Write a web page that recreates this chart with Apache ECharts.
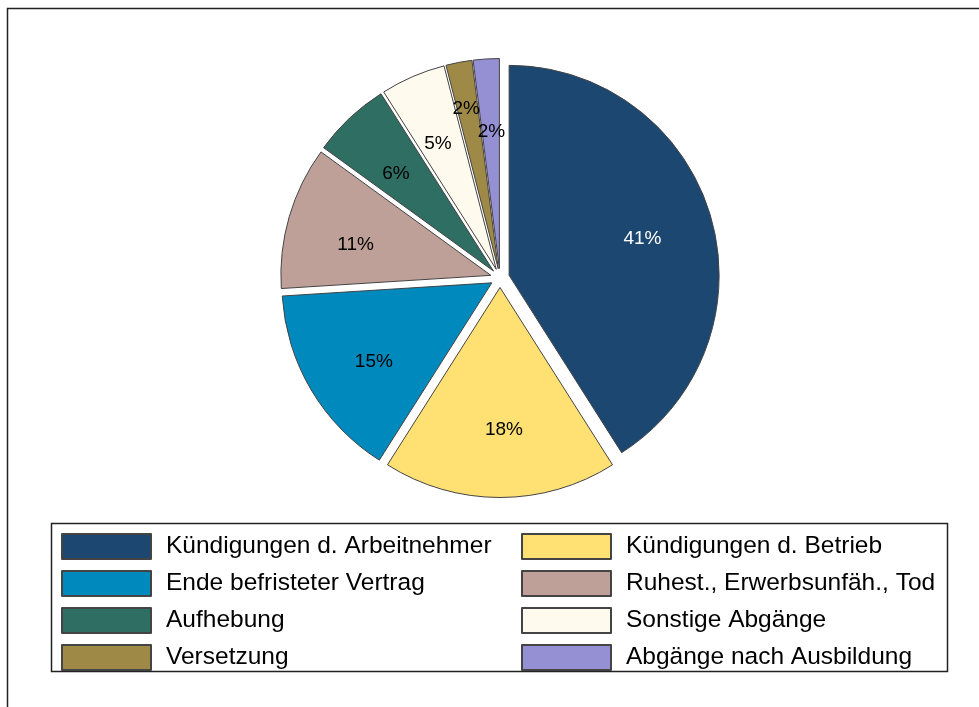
<!DOCTYPE html>
<html>
<head>
<meta charset="utf-8">
<script src="https://cdn.jsdelivr.net/npm/echarts@6/dist/echarts.min.js"></script>
<style>
  html, body { margin: 0; padding: 0; background: #fff; }
  #main { width: 979px; height: 707px; }
</style>
</head>
<body>
<div id="main"></div>
<script>
// Abgänge nach Grund, Anteil in %
var categories = [
    'Kündigungen d. Arbeitnehmer',
    'Kündigungen d. Betrieb',
    'Ende befristeter Vertrag',
    'Ruhest., Erwerbsunfäh., Tod',
    'Aufhebung',
    'Sonstige Abgänge',
    'Versetzung',
    'Abgänge nach Ausbildung'
];
var shares = [41, 18, 15, 11, 6, 5, 2, 2];
var colors = ['#1b4770', '#ffe173', '#0089bc', '#bea098', '#2f6e62', '#fffaee', '#9e8946', '#958fd3'];
var labelColors = ['#ffffff', '#000', '#000', '#000', '#000', '#000', '#000', '#000'];

// legend columns, as in the picture
var legendLeft = ['Kündigungen d. Arbeitnehmer', 'Ende befristeter Vertrag', 'Aufhebung', 'Versetzung'];
var legendRight = ['Kündigungen d. Betrieb', 'Ruhest., Erwerbsunfäh., Tod', 'Sonstige Abgänge', 'Abgänge nach Ausbildung'];

var FONT = '"Liberation Sans", Arial, sans-serif';

function sliceData(withLabels) {
    return categories.map(function (name, i) {
        var item = {
            name: name,
            value: shares[i],
            selected: true
        };
        if (withLabels) {
            item.itemStyle = { color: 'rgba(0,0,0,0)', borderWidth: 0 };
            item.label = { color: labelColors[i] };
        } else {
            item.itemStyle = { color: colors[i] };
        }
        return item;
    });
}

function legendBlock(left, names) {
    return {
        orient: 'vertical',
        left: left,
        top: 533,
        padding: 0,
        itemWidth: 89,
        itemHeight: 25,
        itemGap: 10,
        icon: 'rect',
        selectedMode: false,
        data: names,
        textStyle: {
            fontFamily: FONT,
            fontSize: 24.5,
            lineHeight: 25,
            color: '#000',
            padding: [0, 0, 0, 10]
        }
    };
}

// kleine Korrekturen, damit die Beschriftung wie bei Excel sitzt
var labelNudge = [[-5, 4], [4, -2], [6, 6], [3, 10], [1, 8], [-1, 7], [-5, -18], [1, 7]];

var myChart = echarts.init(document.getElementById('main'));
myChart.setOption({
    animation: false,
    backgroundColor: '#fff',
    graphic: [{
        type: 'rect',
        shape: { x: 7.5, y: 8.5, width: 1000, height: 1000 },
        style: { fill: 'none', stroke: '#222', lineWidth: 1.5 },
        silent: true
    }, {
        type: 'rect',
        shape: { x: 51.5, y: 523.5, width: 896, height: 148 },
        style: { fill: 'none', stroke: '#222', lineWidth: 1.5 },
        silent: true
    }],
    legend: [legendBlock(61, legendLeft), legendBlock(521, legendRight)],
    series: [{
        type: 'pie',
        center: [500, 278],
        radius: 210,
        startAngle: 90,
        clockwise: true,
        selectedMode: 'multiple',
        selectedOffset: 9.5,
        avoidLabelOverlap: false,
        label: { show: false },
        labelLine: { show: false },
        itemStyle: { borderColor: '#444', borderWidth: 1 },
        emphasis: { disabled: true },
        select: { itemStyle: { borderColor: '#444', borderWidth: 1 } },
        data: sliceData(false)
    }, {
        // unsichtbarer Ring nur fuer die Beschriftung (Excel setzt sie weiter aussen)
        type: 'pie',
        center: [500, 278],
        radius: 282,
        startAngle: 90,
        clockwise: true,
        silent: true,
        selectedMode: 'multiple',
        selectedOffset: 9.5,
        avoidLabelOverlap: false,
        z: 3,
        labelLine: { show: false },
        label: {
            show: true,
            position: 'inside',
            formatter: '{c}%',
            fontFamily: FONT,
            fontSize: 19
        },
        labelLayout: function (params) {
            var n = labelNudge[params.dataIndex] || [0, 0];
            return { dx: n[0], dy: n[1], hideOverlap: false };
        },
        emphasis: { disabled: true },
        select: { itemStyle: { color: 'rgba(0,0,0,0)', borderWidth: 0 } },
        data: sliceData(true)
    }]
});
</script>
</body>
</html>
